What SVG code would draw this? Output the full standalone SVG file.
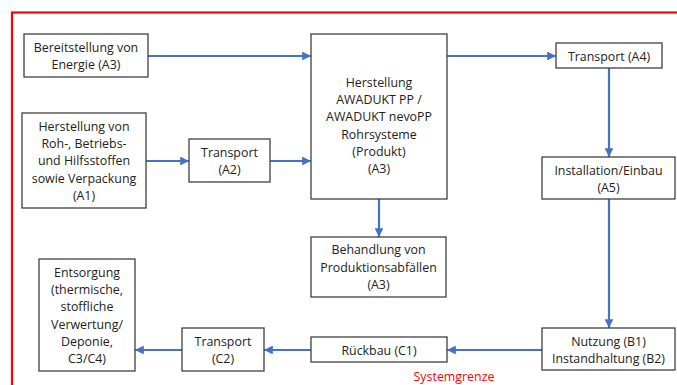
<svg xmlns="http://www.w3.org/2000/svg" width="677" height="385" viewBox="0 0 677 385">
<defs>
<style>
.box{fill:#fff;stroke:#404040;stroke-width:1.3}
.t{font-family:"Open Sans","Noto Sans",sans-serif;font-size:12.4px;fill:#222;text-anchor:middle}
.c{stroke:#4472C4;stroke-width:2.2;fill:none;marker-end:url(#ah)}
.border{fill:none;stroke:#ff0000;stroke-width:2.2}
.sg{font-family:"Open Sans","Noto Sans",sans-serif;font-size:12.4px;fill:#ff0000;text-anchor:middle}
</style>
<marker id="ah" viewBox="0 0 10 10" refX="10" refY="5" markerWidth="4" markerHeight="4" markerUnits="strokeWidth" orient="auto">
<path d="M0,0 L10,5 L0,10 z" fill="#4472C4"/>
</marker>
</defs>
<rect class="border" x="12" y="12.5" width="700" height="420"/>
<text class="sg" x="454" y="381">Systemgrenze</text>
<g id="connectors">
<path class="c" d="M148,56 H311"/>
<path class="c" d="M146,161 H189"/>
<path class="c" d="M270,161 H311"/>
<path class="c" d="M447,56 H556"/>
<path class="c" d="M609,68 V157"/>
<path class="c" d="M379,199 V237"/>
<path class="c" d="M609,199 V328"/>
<path class="c" d="M542,350 H447"/>
<path class="c" d="M311,350 H264"/>
<path class="c" d="M182,350 H135"/>
</g>
<g id="n-energie">
<rect class="box" x="24" y="34" width="124" height="43"/>
<text class="t" x="86" y="51.5">Bereitstellung von</text>
<text class="t" x="86" y="68.5">Energie (A3)</text>
</g>
<g id="n-rohstoffe">
<rect class="box" x="22" y="113" width="124" height="95"/>
<text class="t" x="84" y="130.5">Herstellung von</text>
<text class="t" x="84" y="147.5">Roh-, Betriebs-</text>
<text class="t" x="84" y="164.5">und Hilfsstoffen</text>
<text class="t" x="84" y="182.5">sowie Verpackung</text>
<text class="t" x="84" y="199.5">(A1)</text>
</g>
<g id="n-transport-a2">
<rect class="box" x="189" y="139" width="81" height="43"/>
<text class="t" x="229.5" y="156.5">Transport</text>
<text class="t" x="229.5" y="173.5">(A2)</text>
</g>
<g id="n-herstellung">
<rect class="box" x="311" y="34" width="136" height="165"/>
<text class="t" x="379" y="86.5">Herstellung</text>
<text class="t" x="379" y="103.5">AWADUKT PP /</text>
<text class="t" x="379" y="120.5">AWADUKT nevoPP</text>
<text class="t" x="379" y="138.5">Rohrsysteme</text>
<text class="t" x="379" y="155.5">(Produkt)</text>
<text class="t" x="379" y="172.5">(A3)</text>
</g>
<g id="n-transport-a4">
<rect class="box" x="556" y="43" width="106" height="25"/>
<text class="t" x="609" y="60.5">Transport (A4)</text>
</g>
<g id="n-installation">
<rect class="box" x="542" y="157" width="133" height="42"/>
<text class="t" x="608.5" y="174.5">Installation/Einbau</text>
<text class="t" x="608.5" y="191.5">(A5)</text>
</g>
<g id="n-behandlung">
<rect class="box" x="311" y="237" width="135" height="60"/>
<text class="t" x="378.5" y="253.5">Behandlung von</text>
<text class="t" x="378.5" y="271.5">Produktionsabfällen</text>
<text class="t" x="378.5" y="288.5">(A3)</text>
</g>
<g id="n-nutzung">
<rect class="box" x="542" y="328" width="133" height="42"/>
<text class="t" x="608.5" y="345.5">Nutzung (B1)</text>
<text class="t" x="608.5" y="362.5">Instandhaltung (B2)</text>
</g>
<g id="n-rueckbau">
<rect class="box" x="311" y="337" width="136" height="25"/>
<text class="t" x="379" y="354.5">Rückbau (C1)</text>
</g>
<g id="n-transport-c2">
<rect class="box" x="182" y="328" width="82" height="43"/>
<text class="t" x="223" y="345.5">Transport</text>
<text class="t" x="223" y="362.5">(C2)</text>
</g>
<g id="n-entsorgung">
<rect class="box" x="39" y="259" width="96" height="112"/>
<text class="t" x="87" y="276.5">Entsorgung</text>
<text class="t" x="87" y="293.5">(thermische,</text>
<text class="t" x="87" y="310.5">stoffliche</text>
<text class="t" x="87" y="328.5">Verwertung/</text>
<text class="t" x="87" y="345.5">Deponie,</text>
<text class="t" x="87" y="362.5">C3/C4)</text>
</g>
</svg>
